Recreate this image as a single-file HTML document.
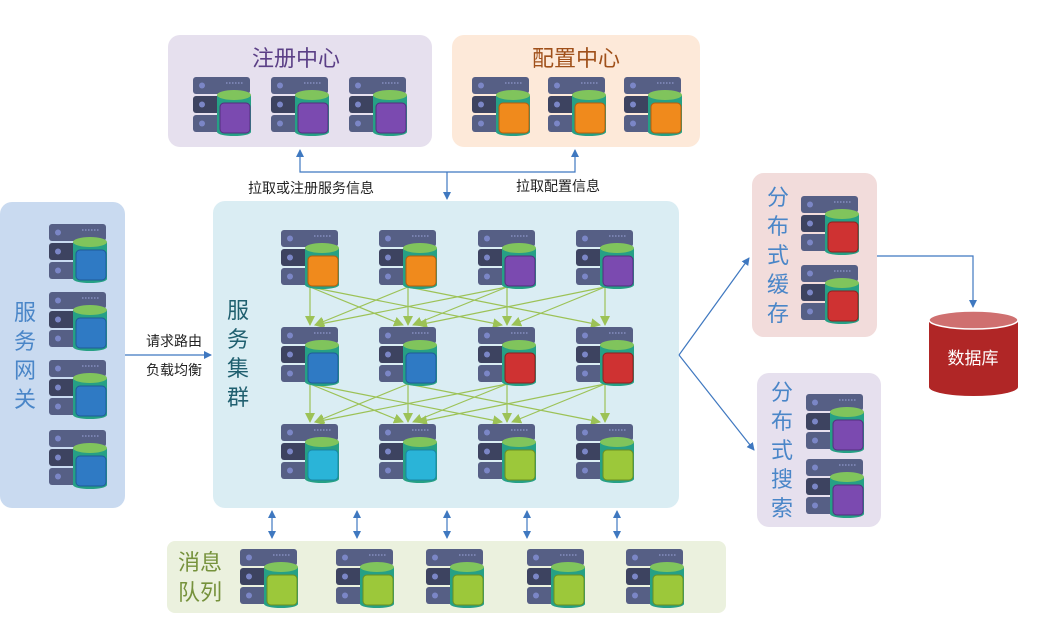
<!DOCTYPE html>
<html><head><meta charset="utf-8"><style>
body{margin:0;background:#fff;width:1055px;height:631px;overflow:hidden;font-family:"Liberation Sans","Noto Sans CJK SC",sans-serif}
</style></head><body>
<svg width="1055" height="631" viewBox="0 0 1055 631" xmlns="http://www.w3.org/2000/svg" font-family="Liberation Sans, Noto Sans CJK SC, sans-serif">
<defs>
<g id="rack">
<rect x="0" y="0" width="57" height="17" rx="3" fill="#565f85"/>
<rect x="0" y="19" width="57" height="17" rx="3" fill="#3d4360"/>
<rect x="0" y="38" width="57" height="17" rx="3" fill="#565f85"/>
<circle cx="9" cy="8.5" r="3" fill="#7b86c6"/><circle cx="9" cy="27.5" r="3" fill="#7b86c6"/><circle cx="9" cy="46.5" r="3" fill="#7b86c6"/>
<line x1="33" y1="6" x2="50" y2="6" stroke="#8e98cc" stroke-width="1.2" stroke-dasharray="1.5 1.5"/>
<rect x="24" y="18" width="34" height="37" fill="#26a085"/>
<ellipse cx="41" cy="55" rx="17" ry="4" fill="#26a085"/>
<ellipse cx="41" cy="18" rx="17" ry="5" fill="#80c45c"/>
</g>
<symbol id="s-or" overflow="visible"><use href="#rack"/><rect x="27" y="26" width="30" height="30" rx="4" fill="#f08a1c" stroke="#b85e0c"/></symbol>
<symbol id="s-bl" overflow="visible"><use href="#rack"/><rect x="27" y="26" width="30" height="30" rx="4" fill="#2f7ac4" stroke="#1f5a98"/></symbol>
<symbol id="s-rd" overflow="visible"><use href="#rack"/><rect x="27" y="26" width="30" height="30" rx="4" fill="#cf3232" stroke="#8f1e1e"/></symbol>
<symbol id="s-pu" overflow="visible"><use href="#rack"/><rect x="27" y="26" width="30" height="30" rx="4" fill="#7b4ab0" stroke="#532f7e"/></symbol>
<symbol id="s-cy" overflow="visible"><use href="#rack"/><rect x="27" y="26" width="30" height="30" rx="4" fill="#2ab4d8" stroke="#1a86a4"/></symbol>
<symbol id="s-gr" overflow="visible"><use href="#rack"/><rect x="27" y="26" width="30" height="30" rx="4" fill="#9cc83a" stroke="#6d9020"/></symbol>
<marker id="ab" markerWidth="8" markerHeight="8" refX="7" refY="4" orient="auto-start-reverse" markerUnits="userSpaceOnUse"><path d="M0,0 L8,4 L0,8z" fill="#3f78c0"/></marker>
<marker id="ag" markerWidth="10" markerHeight="10" refX="9" refY="5" orient="auto" markerUnits="userSpaceOnUse"><path d="M0,0 L10,5 L0,10z" fill="#9cc256"/></marker>
</defs>

<rect x="168" y="35" width="264" height="112" rx="12" fill="#e6e0ee"/>
<rect x="452" y="35" width="248" height="112" rx="12" fill="#fde9d9"/>
<rect x="0" y="202" width="125" height="306" rx="12" fill="#c9daf0"/>
<rect x="213" y="201" width="466" height="307" rx="12" fill="#daedf3"/>
<rect x="752" y="173" width="125" height="164" rx="12" fill="#f2dcdb"/>
<rect x="757" y="373" width="124" height="154" rx="12" fill="#e6e0ee"/>
<rect x="167" y="541" width="559" height="72" rx="8" fill="#ebf1de"/>

<text x="296" y="66" font-size="22" fill="#5b3f86" text-anchor="middle">注册中心</text>
<text x="576" y="66" font-size="22" fill="#a0501a" text-anchor="middle">配置中心</text>
<g font-size="22" fill="#4a86c8" text-anchor="middle"><text x="25" y="320">服</text><text x="25" y="349">务</text><text x="25" y="378">网</text><text x="25" y="407">关</text></g>
<g font-size="22" fill="#1f5f6f" text-anchor="middle"><text x="238" y="318">服</text><text x="238" y="347">务</text><text x="238" y="376">集</text><text x="238" y="405">群</text></g>
<g font-size="22" fill="#4a86c8" text-anchor="middle"><text x="778" y="205">分</text><text x="778" y="234">布</text><text x="778" y="263">式</text><text x="778" y="292">缓</text><text x="778" y="321">存</text></g>
<g font-size="22" fill="#4a86c8" text-anchor="middle"><text x="782" y="400">分</text><text x="782" y="429">布</text><text x="782" y="458">式</text><text x="782" y="487">搜</text><text x="782" y="516">索</text></g>
<g font-size="22" fill="#76923c"><text x="178" y="570">消息</text><text x="178" y="600">队列</text></g>

<use href="#s-pu" x="193" y="77"/><use href="#s-pu" x="271" y="77"/><use href="#s-pu" x="349" y="77"/>
<use href="#s-or" x="472" y="77"/><use href="#s-or" x="548" y="77"/><use href="#s-or" x="624" y="77"/>
<use href="#s-bl" x="49" y="224"/><use href="#s-bl" x="49" y="292"/><use href="#s-bl" x="49" y="360"/><use href="#s-bl" x="49" y="430"/>
<use href="#s-rd" x="801" y="196"/><use href="#s-rd" x="801" y="265"/>
<use href="#s-pu" x="806" y="394"/><use href="#s-pu" x="806" y="459"/>
<use href="#s-gr" x="240" y="549"/><use href="#s-gr" x="336" y="549"/><use href="#s-gr" x="426" y="549"/><use href="#s-gr" x="527" y="549"/><use href="#s-gr" x="626" y="549"/>

<g stroke="#9cc256" stroke-width="1.2" marker-end="url(#ag)">
<line x1="310" y1="287" x2="310" y2="325"/><line x1="310" y1="287" x2="403" y2="325"/><line x1="310" y1="287" x2="502" y2="325"/>
<line x1="408" y1="287" x2="315" y2="325"/><line x1="408" y1="287" x2="408" y2="325"/><line x1="408" y1="287" x2="600" y2="325"/>
<line x1="507" y1="287" x2="413" y2="325"/><line x1="507" y1="287" x2="507" y2="325"/><line x1="507" y1="287" x2="315" y2="325" />
<line x1="605" y1="287" x2="605" y2="325"/><line x1="605" y1="287" x2="512" y2="325"/><line x1="605" y1="287" x2="418" y2="325"/>
<line x1="310" y1="384" x2="310" y2="422"/><line x1="310" y1="384" x2="403" y2="422"/><line x1="310" y1="384" x2="502" y2="422"/>
<line x1="408" y1="384" x2="315" y2="422"/><line x1="408" y1="384" x2="408" y2="422"/><line x1="408" y1="384" x2="600" y2="422"/>
<line x1="507" y1="384" x2="413" y2="422"/><line x1="507" y1="384" x2="507" y2="422"/><line x1="507" y1="384" x2="315" y2="422"/>
<line x1="605" y1="384" x2="605" y2="422"/><line x1="605" y1="384" x2="512" y2="422"/><line x1="605" y1="384" x2="418" y2="422"/>
</g>
<use href="#s-or" x="281" y="230"/><use href="#s-or" x="379" y="230"/><use href="#s-pu" x="478" y="230"/><use href="#s-pu" x="576" y="230"/>
<use href="#s-bl" x="281" y="327"/><use href="#s-bl" x="379" y="327"/><use href="#s-rd" x="478" y="327"/><use href="#s-rd" x="576" y="327"/>
<use href="#s-cy" x="281" y="424"/><use href="#s-cy" x="379" y="424"/><use href="#s-gr" x="478" y="424"/><use href="#s-gr" x="576" y="424"/>

<g stroke="#3f78c0" stroke-width="1.2" fill="none">
<polyline points="300,150 300,172 575,172 575,150" marker-start="url(#ab)" marker-end="url(#ab)"/>
<line x1="447" y1="172" x2="447" y2="199" marker-end="url(#ab)"/>
<line x1="125" y1="355" x2="211" y2="355" marker-end="url(#ab)"/>
<line x1="679" y1="355" x2="749" y2="258" marker-end="url(#ab)"/>
<line x1="679" y1="355" x2="754" y2="450" marker-end="url(#ab)"/>
<polyline points="877,256 973,256 973,307" marker-end="url(#ab)"/>
<line x1="272" y1="511" x2="272" y2="538" marker-start="url(#ab)" marker-end="url(#ab)"/>
<line x1="357" y1="511" x2="357" y2="538" marker-start="url(#ab)" marker-end="url(#ab)"/>
<line x1="447" y1="511" x2="447" y2="538" marker-start="url(#ab)" marker-end="url(#ab)"/>
<line x1="527" y1="511" x2="527" y2="538" marker-start="url(#ab)" marker-end="url(#ab)"/>
<line x1="617" y1="511" x2="617" y2="538" marker-start="url(#ab)" marker-end="url(#ab)"/>
</g>
<g font-size="14" fill="#222">
<text x="248" y="193">拉取或注册服务信息</text>
<text x="516" y="191">拉取配置信息</text>
<text x="146" y="346">请求路由</text>
<text x="146" y="375">负载均衡</text>
</g>

<path d="M929,320 L929,387 A44.5,9 0 0 0 1018,387 L1018,320z" fill="#b02626"/>
<ellipse cx="973.5" cy="320" rx="44.5" ry="9" fill="#cf7070" stroke="#fff" stroke-width="1.5"/>
<text x="973" y="364" font-size="17" fill="#fff" text-anchor="middle">数据库</text>
</svg>
</body></html>
